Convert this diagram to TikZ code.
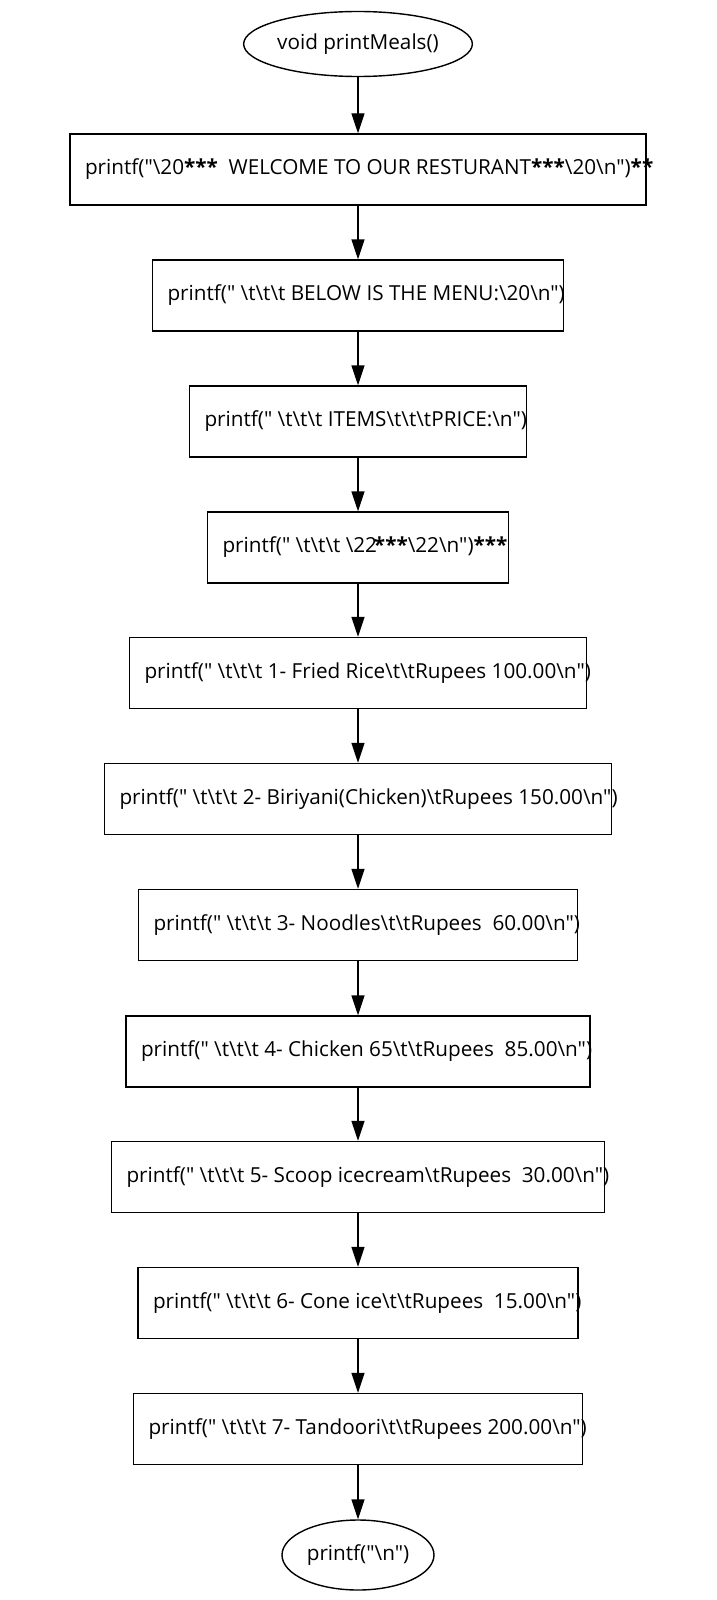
\documentclass[tikz,border=0pt]{standalone}
\usepackage{fontspec}
\setmainfont{Open Sans}[Ligatures=TeXOff]
\usetikzlibrary{arrows.meta,shapes.geometric}
\tikzset{
  box/.style={draw, line width=1.4pt, minimum height=71pt, inner xsep=15pt, inner ysep=0pt, font=\fontsize{20.7}{24}\selectfont},
  term/.style={draw, ellipse, line width=1.4pt, inner sep=0pt, font=\fontsize{20.7}{24}\selectfont},
  flow/.style={line width=1.4pt, -{Triangle[length=20pt,width=13pt]}}
}
\newcommand{\bxt}[2]{\makebox[#1][l]{#2}}
\newcommand{\dq}{\symbol{34}}
\newcommand{\bs}{\symbol{92}}
\begin{document}
\begin{tikzpicture}[x=1pt,y=-1pt]
\useasboundingbox (0,0) rectangle (717,1600);
\node[term, minimum width=220pt, minimum height=65pt] (start) at (358,44) {void printMeals()};
\node[box] (b1) at (358,169.5) {\bxt{546pt}{printf(\dq\bs 20\textbf{***}\ \ WELCOME TO OUR RESTURANT\textbf{***}\bs 20\bs n\dq)\textbf{**}}};
\node[box] (b2) at (358,295.5) {\bxt{381pt}{printf(\dq\ \bs t\bs t\bs t BELOW IS THE MENU:\bs 20\bs n\dq)}};
\node[box] (b3) at (358,421.5) {\bxt{307pt}{printf(\dq\ \bs t\bs t\bs t ITEMS\bs t\bs t\bs tPRICE:\bs n\dq)}};
\node[box] (b4) at (358,547.5) {\bxt{271pt}{printf(\dq\ \bs t\bs t\bs t \bs 22\kern-0.15em\textbf{***}\bs 22\bs n\dq)\textbf{***}}};
\node[box] (b5) at (358,673) {\bxt{427pt}{printf(\dq\ \bs t\bs t\bs t 1- Fried Rice\bs t\bs tRupees 100.00\bs n\dq)}};
\node[box] (b6) at (358,799) {\bxt{477pt}{printf(\dq\ \bs t\bs t\bs t 2- Biriyani(Chicken)\bs tRupees 150.00\bs n\dq)}};
\node[box] (b7) at (358,925) {\bxt{409pt}{printf(\dq\ \bs t\bs t\bs t 3- Noodles\bs t\bs tRupees\ \ 60.00\bs n\dq)}};
\node[box] (b8) at (358,1051.5) {\bxt{434pt}{printf(\dq\ \bs t\bs t\bs t 4- Chicken 65\bs t\bs tRupees\ \ 85.00\bs n\dq)}};
\node[box] (b9) at (358,1177) {\bxt{463pt}{printf(\dq\ \bs t\bs t\bs t 5- Scoop icecream\bs tRupees\ \ 30.00\bs n\dq)}};
\node[box] (b10) at (358,1303) {\bxt{410pt}{printf(\dq\ \bs t\bs t\bs t 6- Cone ice\bs t\bs tRupees\ \ 15.00\bs n\dq)}};
\node[box] (b11) at (358,1429) {\bxt{419pt}{printf(\dq\ \bs t\bs t\bs t 7- Tandoori\bs t\bs tRupees 200.00\bs n\dq)}};
\node[term, minimum width=152pt, minimum height=70pt] (end) at (358,1555) {printf(\dq\bs n\dq)};
\draw[flow] (start) -- (b1);
\draw[flow] (b1) -- (b2);
\draw[flow] (b2) -- (b3);
\draw[flow] (b3) -- (b4);
\draw[flow] (b4) -- (b5);
\draw[flow] (b5) -- (b6);
\draw[flow] (b6) -- (b7);
\draw[flow] (b7) -- (b8);
\draw[flow] (b8) -- (b9);
\draw[flow] (b9) -- (b10);
\draw[flow] (b10) -- (b11);
\draw[flow] (b11) -- (end);
\end{tikzpicture}
\end{document}
